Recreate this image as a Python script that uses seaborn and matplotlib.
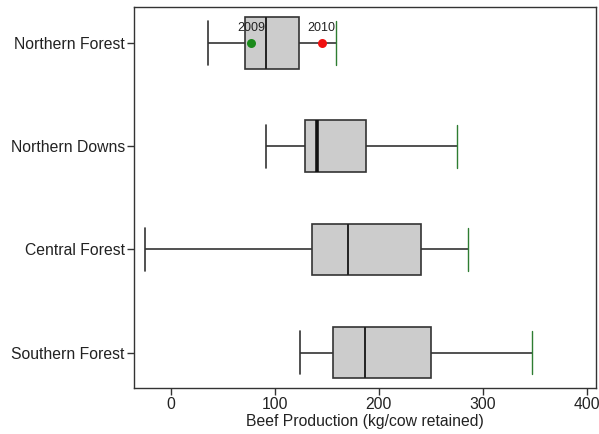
import seaborn as sns
import matplotlib.pyplot as plt
import pandas as pd

# box stats (kg/cow retained)
regions = ["Northern Forest", "Northern Downs", "Central Forest", "Southern Forest"]
whisk_lo = [36, 92, -25, 124]
q1 = [71, 129, 136, 156]
median = [92, 141, 170, 187]
q3 = [123, 188, 241, 250]
whisk_hi = [159, 275, 286, 347]

# single years marked on Northern Forest
years = ["2009", "2010"]
year_vals = [77, 145]
year_colors = ["#1a8a1a", "#f01010"]

rows = []
for i, r in enumerate(regions):
    for v in [whisk_lo[i], q1[i], median[i], q3[i], whisk_hi[i]]:
        rows.append({"region": r, "value": v})
df = pd.DataFrame(rows)

sns.set_style("white")
plt.rcParams['font.family'] = ['Liberation Sans', 'DejaVu Sans']

fig = plt.figure(figsize=(5.99, 4.34), dpi=100)
ax = fig.add_axes([0.2245, 0.1067, 0.7705, 0.8765])

sns.boxplot(data=df, x="value", y="region", order=regions, orient="h",
            whis=(0, 100), width=0.5, color="#cccccc", saturation=1,
            linecolor="#333333", linewidth=1.2, capwidths=0.42,
            medianprops={"color": "#222222", "linewidth": 1.4}, ax=ax)

# right whisker caps are green in the original
for ln in ax.lines:
    xd = list(ln.get_xdata())
    if len(xd) == 2 and xd[0] == xd[1] and xd[0] in whisk_hi:
        ln.set_color("#2e7d32")
        ln.set_linewidth(1.0)
# Northern Downs median is heavier
for ln in ax.lines:
    xd = list(ln.get_xdata())
    if len(xd) == 2 and xd[0] == xd[1] == median[1]:
        ln.set_linewidth(2.6)
        ln.set_color("#111111")

for lab, v, c in zip(years, year_vals, year_colors):
    ax.scatter([v], [0], s=42, color=c, zorder=5, linewidths=0)
    ax.annotate(lab, (v, 0), xytext=(0, 10.5), textcoords="offset points",
                ha="center", va="center", fontsize=9, color="#222222")

ax.set_xlim(-34.8, 408.7)
ax.set_ylim(3.34, -0.346)
ax.set_xticks([0, 100, 200, 300, 400])
ax.set_xlabel("Beef Production (kg/cow retained)", fontsize=11.3, labelpad=1.5,
              color="#222222")
ax.set_ylabel("")
ax.tick_params(axis="both", labelsize=11.3, length=5, width=1, color="#333333",
               labelcolor="#222222", direction="out", bottom=True, left=True, pad=2)
for s in ax.spines.values():
    s.set_visible(True)
    s.set_color("#333333")
    s.set_linewidth(1.0)

fig.savefig("out.png", dpi=100)
